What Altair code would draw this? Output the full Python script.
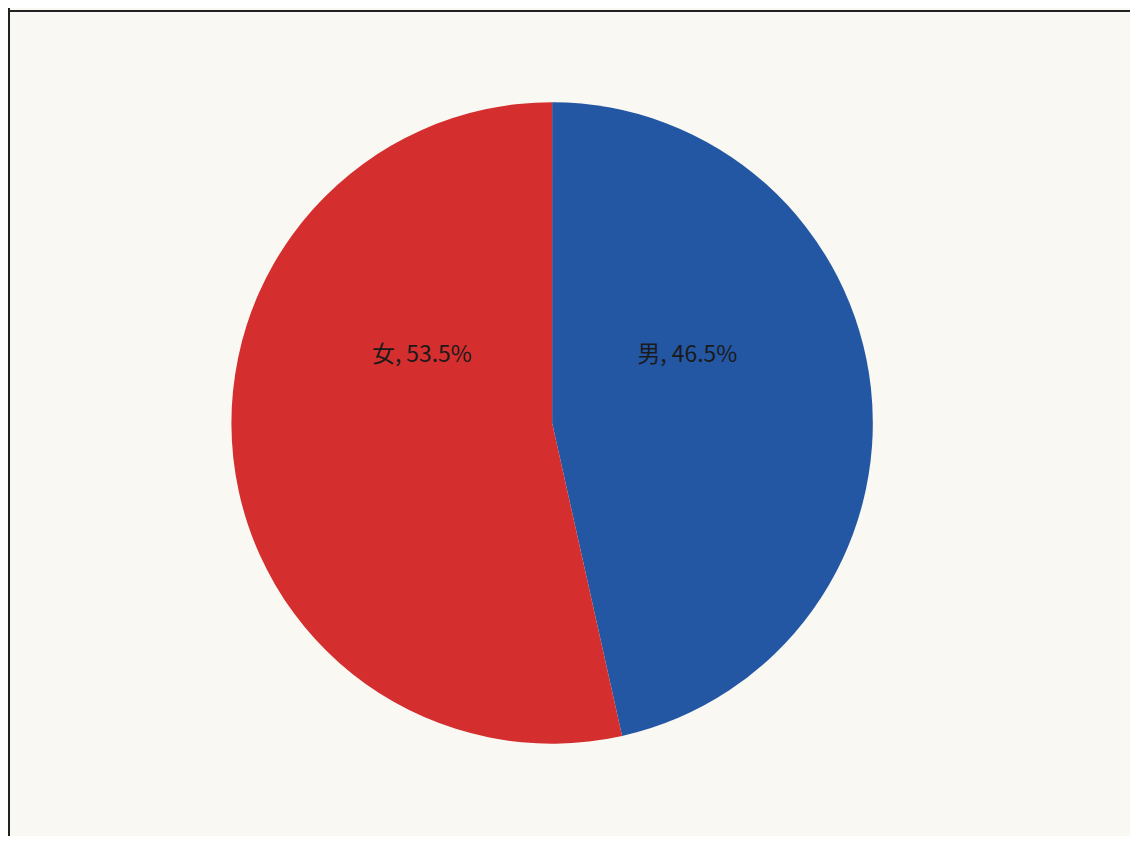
import altair as alt
import pandas as pd

categories = ["男", "女"]
shares = [46.5, 53.5]
order_idx = [0, 1]
colors = ["#2457a3", "#d42e2e"]

df = pd.DataFrame({"cat": categories, "value": shares, "idx": order_idx})

base = alt.Chart(df)

pie = base.mark_arc(stroke=None, outerRadius=323).encode(
    theta=alt.Theta("value:Q", stack=True, scale=alt.Scale(domain=[0, 100])),
    order=alt.Order("idx:Q"),
    color=alt.Color("cat:N", scale=alt.Scale(domain=categories, range=colors), legend=None),
)

lab = base.transform_window(
    cum="sum(value)", sort=[alt.SortField("idx")], frame=[None, 0]
).transform_calculate(
    mid="datum.cum - datum.value / 2",
    label="datum.cat + ', ' + format(datum.value, '.1f') + '%'",
)

def label_layer(cat, dy, dx):
    return lab.transform_filter(alt.datum.cat == cat).mark_text(
        radius=137, dy=dy, dx=dx, fontSize=23, font="Noto Sans CJK JP", color="#1a1a1a",
        align="center", baseline="middle",
    ).encode(
        theta=alt.Theta("mid:Q", stack=None, scale=alt.Scale(domain=[0, 100])),
        text="label:N",
    )

frame_top = base.mark_rule(color="#222222", strokeWidth=2).encode(
    x=alt.value(-10), x2=alt.value(1200), y=alt.value(-2)
)
frame_left = base.mark_rule(color="#222222", strokeWidth=2).encode(
    x=alt.value(-3), y=alt.value(-5), y2=alt.value(900)
)

chart = alt.layer(
    pie, label_layer("男", -53, 0), label_layer("女", -83, 5), frame_top, frame_left
).properties(
    width=1088, height=826,
    autosize=alt.AutoSizeParams(type="none"),
    padding={"left": 4, "top": 2, "right": 38, "bottom": 0},
    background="#f9f8f3",
).configure_view(stroke=None)

chart.save("out.html", embed_options={"renderer": "svg", "actions": False})
